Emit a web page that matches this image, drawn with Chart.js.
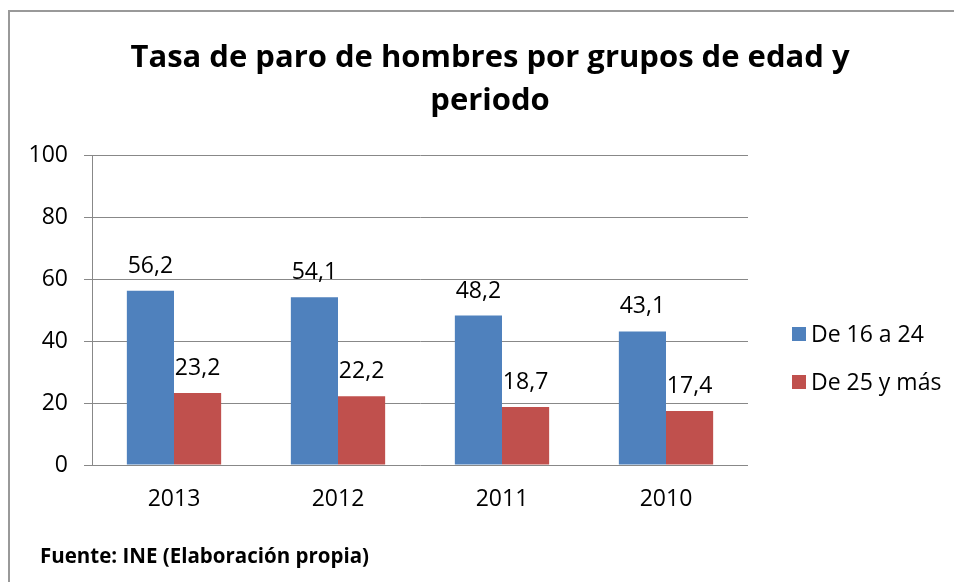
<!DOCTYPE html>
<html><head><meta charset="utf-8">
<script src="https://cdn.jsdelivr.net/npm/chart.js@4/dist/chart.umd.min.js"></script>
<style>html,body{margin:0;padding:0;background:#fff}#wrap{width:954px;height:582px}</style>
</head><body><div id="wrap"><canvas id="c" width="954" height="582"></canvas></div>
<script>
const categories = ['2013', '2012', '2011', '2010'];
const seriesNames = ['De 16 a 24', 'De 25 y más'];
const youngValues = [56.2, 54.1, 48.2, 43.1];
const olderValues = [23.2, 22.2, 18.7, 17.4];
const yTicks = [0, 20, 40, 60, 80, 100];
const titleLines = ['Tasa de paro de hombres por grupos de edad y', 'periodo'];
const sourceText = 'Fuente: INE (Elaboración propia)';
const colors = ['#4F81BD', '#C0504D'];
const FONT = '"Open Sans", Lato, sans-serif';

const decor = {
  id: 'decor',
  beforeDraw(chart) {
    const ctx = chart.ctx;
    ctx.save();
    ctx.fillStyle = '#fff';
    ctx.fillRect(0, 0, chart.width, chart.height);
    ctx.strokeStyle = '#999';
    ctx.lineWidth = 2;
    ctx.beginPath();
    ctx.moveTo(9, 582); ctx.lineTo(9, 11); ctx.lineTo(954, 11);
    ctx.stroke();
    ctx.restore();
  },
  afterDraw(chart) {
    const ctx = chart.ctx;
    ctx.save();
    // title
    ctx.fillStyle = '#000';
    ctx.font = 'bold 31px ' + FONT;
    ctx.textAlign = 'center';
    ctx.textBaseline = 'alphabetic';
    ctx.fillText(titleLines[0], 490, 67);
    ctx.fillText(titleLines[1], 490, 110);
    // data labels
    ctx.font = '23px ' + FONT;
    chart.data.datasets.forEach((ds, i) => {
      chart.getDatasetMeta(i).data.forEach((bar, j) => {
        ctx.fillText(String(ds.data[j]).replace('.', ','), bar.x, bar.y - 18);
      });
    });
    // legend
    ctx.textAlign = 'left';
    chart.data.datasets.forEach((ds, i) => {
      const y = 334 + i * 48;
      ctx.fillStyle = ds.backgroundColor;
      ctx.fillRect(792, y - 7, 14, 14);
      ctx.fillStyle = '#000';
      ctx.fillText(ds.label, 811, y + 8);
    });
    // source
    ctx.font = 'bold 20.5px ' + FONT;
    ctx.fillText(sourceText, 40, 563);
    ctx.restore();
  }
};

new Chart(document.getElementById('c'), {
  type: 'bar',
  data: {
    labels: categories,
    datasets: [
      { label: seriesNames[0], data: youngValues, backgroundColor: colors[0] },
      { label: seriesNames[1], data: olderValues, backgroundColor: colors[1] }
    ]
  },
  options: {
    responsive: false,
    animation: false,
    devicePixelRatio: 1,
    layout: { padding: { left: 30, right: 206, top: 155, bottom: 67 } },
    datasets: { bar: { categoryPercentage: 0.575, barPercentage: 1.0 } },
    plugins: { legend: { display: false }, title: { display: false }, tooltip: { enabled: false } },
    scales: {
      x: {
        grid: { display: false },
        border: { display: false },
        ticks: { color: '#000', font: { family: FONT, size: 23 }, padding: 13 },
        afterFit(a) { a.height = 50; }
      },
      y: {
        min: 0, max: 100,
        afterBuildTicks(a) { a.ticks = yTicks.map(v => ({ value: v })); },
        grid: { color: '#888', tickLength: 8, lineWidth: 1 },
        border: { display: true, color: '#888' },
        ticks: { color: '#000', font: { family: FONT, size: 23 }, padding: 16 },
        afterFit(a) { a.width = 62; }
      }
    }
  },
  plugins: [decor]
});
</script></body></html>
